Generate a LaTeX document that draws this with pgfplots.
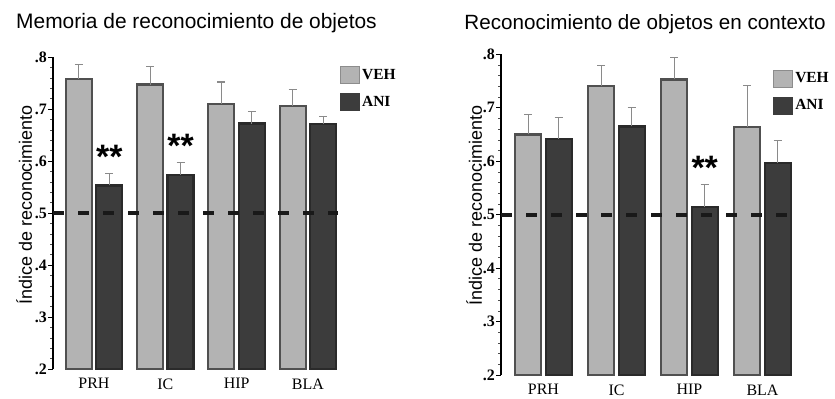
\documentclass[border=0pt]{standalone}
\usepackage{fontspec}
\setmainfont{Liberation Serif}
\setsansfont{Liberation Sans}
\usepackage{pgfplots}
\pgfplotsset{compat=1.18}
\definecolor{vehfill}{HTML}{B3B3B3}
\definecolor{vehdraw}{HTML}{505050}
\definecolor{anifill}{HTML}{3C3C3C}
\definecolor{anidraw}{HTML}{2A2A2A}
\definecolor{errc}{HTML}{8A8A8A}
\tikzset{stars/.style={font=\fontsize{34}{34}\sffamily\bfseries, anchor=base, yshift=-19.5bp, inner sep=0pt}}
\pgfplotsset{
  common/.style={
    scale only axis,
    ybar,
    bar width=26bp,
    ymin=0.2, ymax=0.8,
    ytick={0.2,0.3,0.4,0.5,0.6,0.7,0.8},
    yticklabels={.2,.3,.4,.5,.6,.7,.8},
    minor y tick num=4,
    axis y line=left,
    axis x line*=bottom,
    x axis line style={draw=none},
    y axis line style={-, line width=2bp, black},
    tick align=outside,
    major tick length=5bp,
    minor tick length=3bp,
    ytick style={line width=0.8bp, black},
    minor y tick style={line width=0.6bp, black!70},
    xtick={0,1,2,3},
    xticklabels={PRH,IC,HIP,BLA},
    xtick style={draw=none},
    xticklabel style={font=\fontsize{16}{16}\selectfont, yshift=-1bp},
    yticklabel style={font=\fontsize{16}{16}\selectfont\bfseries, inner sep=1bp},
    legend style={draw=none, fill=none, inner sep=0pt,
      font=\fontsize{15.5}{16}\selectfont\bfseries,
      row sep=9bp, cells={anchor=west}},
    error bars/y dir=plus,
    error bars/y explicit,
    error bars/error bar style={errc, line width=1.1bp},
    error bars/error mark options={errc, line width=1.1bp, mark size=4bp, rotate=90},
  },
  veh/.style={fill=vehfill, draw=vehdraw, line width=2.2bp, bar shift=-15.25bp,
    legend image code/.code={\draw[fill=vehfill, draw=black!45, line width=1bp] (0bp,-8.5bp) rectangle (19bp,8.5bp);}},
  ani/.style={fill=anifill, draw=anidraw, line width=2.2bp, bar shift=15.25bp,
    legend image code/.code={\draw[fill=anifill, draw=anifill, line width=1bp] (0bp,-8.5bp) rectangle (19bp,8.5bp);}},
  refline/.style={sharp plot, forget plot, no markers, draw=black!90, line width=4.2bp,
    dash pattern=on 11bp off 14bp},
}
\begin{document}
\begin{tikzpicture}[x=1bp,y=1bp]
\path (0,0) rectangle (835,390);
% Left chart
\begin{axis}[common,
  at={(53bp,21bp)}, anchor=south west,
  width=287bp, height=312bp,
  xmin=-0.575, xmax=3.45,
  legend style={at={(axis description cs:1.0,0.972)}, anchor=north west},
  ylabel={Índice de reconocimiento},
  every axis y label/.style={at={(axis description cs:-0.0732,0.526)}, rotate=90, anchor=base,
    font=\fontsize{18}{18}\sffamily},
]
\addplot[veh] table[x=x, y=y, y error=e] {
x y e
0 0.758 0.028
1 0.747 0.034
2 0.710 0.042
3 0.706 0.031
};
\addlegendentry{VEH}
\addplot[ani] table[x=x, y=y, y error=e] {
x y e
0 0.553 0.023
1 0.573 0.024
2 0.672 0.023
3 0.671 0.014
};
\addlegendentry{ANI}
\addplot[refline] coordinates {(-0.575,0.5) (3.42,0.5)};
\node[stars] at (axis cs:0.214,0.623) {**};
\node[stars] at (axis cs:1.214,0.644) {**};
\end{axis}
\node[anchor=base, font=\fontsize{21}{21}\sffamily] at (196.5,361) {Memoria de reconocimiento de objetos};
% Right chart
\begin{axis}[common,
  at={(501bp,15bp)}, anchor=south west,
  width=294.3bp, height=320.7bp,
  xmin=-0.582, xmax=3.45,
  legend style={at={(axis description cs:0.9245,0.953)}, anchor=north west},
  ylabel={Índice de reconocimiento},
  every axis y label/.style={at={(axis description cs:-0.0646,0.529)}, rotate=90, anchor=base,
    font=\fontsize{18}{18}\sffamily},
]
\addplot[veh] table[x=x, y=y, y error=e] {
x y e
0 0.650 0.037
1 0.740 0.039
2 0.753 0.041
3 0.664 0.077
};
\addlegendentry{VEH}
\addplot[ani] table[x=x, y=y, y error=e] {
x y e
0 0.642 0.039
1 0.665 0.036
2 0.515 0.042
3 0.597 0.042
};
\addlegendentry{ANI}
\addplot[refline] coordinates {(-0.582,0.5) (3.445,0.5)};
\node[stars] at (axis cs:2.209,0.602) {**};
\end{axis}
\node[anchor=base, font=\fontsize{20.7}{21}\sffamily] at (645,360) {Reconocimiento de objetos en contexto};
\end{tikzpicture}
\end{document}
